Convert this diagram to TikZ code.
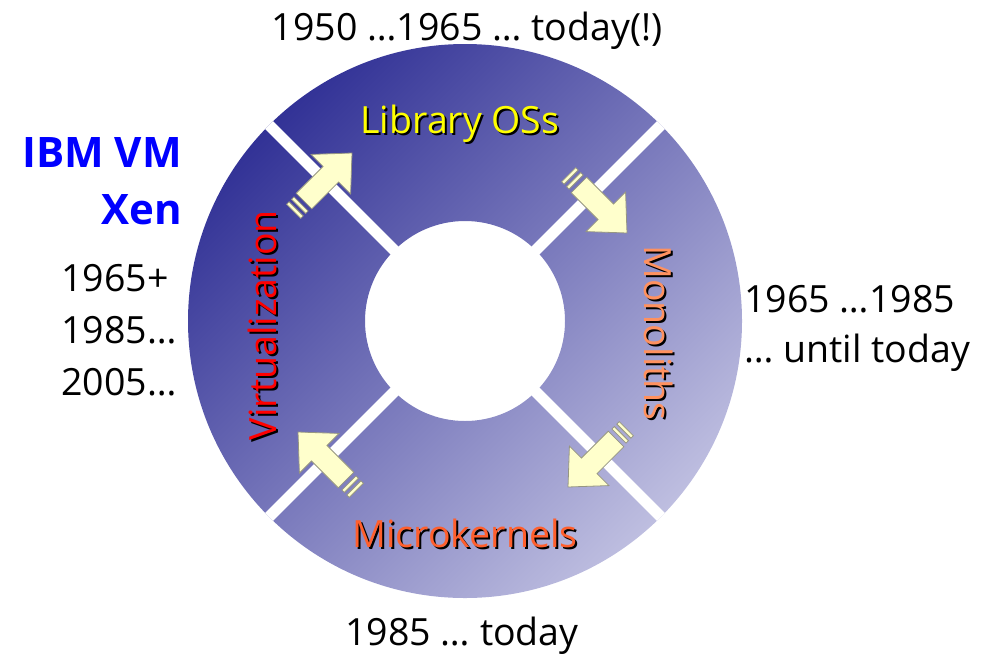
\documentclass[tikz,border=0pt]{standalone}
\usepackage{fontspec}
\setmainfont{Open Sans}
\usetikzlibrary{calc}
\definecolor{ringdark}{RGB}{50,50,150}
\definecolor{ringlight}{RGB}{190,190,224}
\definecolor{arrowfill}{RGB}{255,255,204}
\definecolor{arrowline}{RGB}{150,150,130}
\definecolor{libcol}{RGB}{255,255,0}
\definecolor{monocol}{RGB}{255,145,95}
\definecolor{microcol}{RGB}{255,95,45}
\definecolor{vmblue}{RGB}{0,0,255}
\newcommand\bigtext{\fontsize{37.5}{42}\selectfont}
\newcommand\boldtext{\fontsize{42}{46}\selectfont\bfseries}
% fat block arrow with two stripes behind its tail; tip at (#1,#2), pointing at angle #3
\newcommand\blockarrow[3]{%
  \begin{scope}[shift={(#1,#2)},rotate=#3]
    \draw[arrowbody] (0,0) -- (-30,28) -- (-30,11) -- (-68,11) -- (-68,-11)
      -- (-30,-11) -- (-30,-28) -- cycle;
    \draw[arrowbody] (-72,-10) rectangle (-75.5,10);
    \draw[arrowbody] (-79,-10) rectangle (-82.5,10);
  \end{scope}}
\tikzset{
  arrowbody/.style={fill=arrowfill,draw=arrowline,line width=0.8,line join=miter},
  plain/.style={font=\bigtext,text=black,inner sep=0},
  shadowed/.style={font=\bigtext,inner sep=0},
}
\begin{document}
\begin{tikzpicture}[x=1pt,y=-1pt]
\useasboundingbox (0,0) rectangle (995,654);
\coordinate (c) at (465,321);
% shaded ring
\shade[even odd rule,top color=ringdark,bottom color=ringlight,shading angle=45]
  (c) circle[radius=277] (c) circle[radius=100];
% white separators between the four quadrants
\begin{scope}
  \clip (c) circle[radius=277];
  \foreach \a in {45,135,225,315}
    \draw[white,line width=11] ($(c)+(\a:95)$) -- ($(c)+(\a:285)$);
\end{scope}
% arrows crossing the separators, clockwise
\blockarrow{352}{153}{45}
\blockarrow{627}{233}{-45}
\blockarrow{568}{487}{-135}
\blockarrow{298}{432}{135}
% ring labels with a drop shadow
\node[shadowed,anchor=base,text=black] at (462,135) {Library OSs};
\node[shadowed,anchor=base,text=libcol] (lib) at (460,133) {Library OSs};
\node[shadowed,anchor=base,text=black] at (467,549) {Microkernels};
\node[shadowed,anchor=base,text=microcol] (micro) at (465,547) {Microkernels};
\node[shadowed,rotate=90,text=black] at (264,327) {Virtualization};
\node[shadowed,rotate=90,text=red] (virt) at (262,325) {Virtualization};
\node[shadowed,rotate=-90,text=black] at (661,335) {Monoliths};
\node[shadowed,rotate=-90,text=monocol] (mono) at (659,333) {Monoliths};
% dates around the ring
\node[plain,anchor=base] (tdate) at (467,40) {1950 …1965 … today(!)};
\node[plain,anchor=base] (bdate) at (462,645) {1985 … today};
\node[plain,anchor=base west] (rdate1) at (744,312) {1965 …1985};
\node[plain,anchor=base west] (rdate2) at (744,362) {… until today};
\node[plain,anchor=base west] (ldate1) at (61,291) {1965+};
\node[plain,anchor=base west] (ldate2) at (61,343) {1985…};
\node[plain,anchor=base west] (ldate3) at (61,395) {2005…};
\node[inner sep=0,font=\boldtext,text=vmblue,anchor=base east] (ibm) at (182,167) {IBM VM};
\node[inner sep=0,font=\boldtext,text=vmblue,anchor=base east] (xen) at (182,224) {Xen};
\end{tikzpicture}
\end{document}
